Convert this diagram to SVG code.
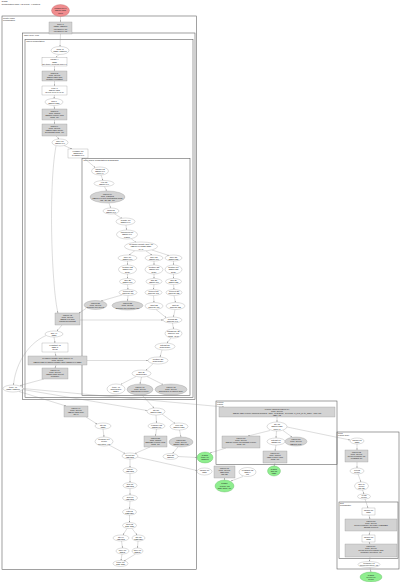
<svg xmlns="http://www.w3.org/2000/svg" width="400" height="582" viewBox="0 0 400 582">
<style>
.cl{fill:none;stroke:#555;stroke-width:0.55}
.g{fill:#d3d3d3;stroke:#8a8a8a;stroke-width:0.3}
.w{fill:#fff;stroke:#8a8a8a;stroke-width:0.3}
.r{fill:#f08c8e;stroke:#b05a5a;stroke-width:0.3}
.gr{fill:#8fee8f;stroke:#4ca84c;stroke-width:0.3}
.e{fill:none;stroke:#8a8a8a;stroke-width:0.3;marker-end:url(#ah)}
text{font-family:"Liberation Sans",Arial,sans-serif;font-size:2.2px;fill:#222;text-anchor:middle}
.l{text-anchor:start}
</style>
<defs>
<marker id="ah" viewBox="0 0 10 10" refX="10" refY="5" markerWidth="1.6" markerHeight="1.6" markerUnits="userSpaceOnUse" orient="auto"><path d="M0,1L10,5L0,9z" fill="#8a8a8a"/></marker>
</defs>
<rect width="400" height="582" fill="#fff"/>
<text class="l" x="1.5" y="2.4">Graph</text>
<text class="l" x="1.5" y="4.8">Computation main, 92 nodes, 4 clusters</text>

<g id="clusters">
<rect class="cl" x="2" y="16" width="194.5" height="553.5"/><text class="l" x="3" y="18.6">cluster main</text><text class="l" x="3" y="20.8">computation</text>
<rect class="cl" x="22.5" y="33" width="172.5" height="366.5"/><text class="l" x="24" y="35.6">while body loop</text>
<rect class="cl" x="25" y="39.5" width="168" height="358"/><text class="l" x="26.5" y="42.2">fused computation</text>
<rect class="cl" x="82" y="158.5" width="108" height="237"/><text class="l" x="83.5" y="161.2">inner fused computation.2 subgraph</text>
<rect class="cl" x="216" y="401" width="121" height="63.5"/><text class="l" x="217" y="403.4">reduce</text><text class="l" x="217" y="405.4">region</text>
<rect class="cl" x="337" y="432" width="62" height="137"/><text class="l" x="338" y="434.4">cond</text><text class="l" x="338" y="436.4">region body</text>
<rect class="cl" x="339" y="502" width="59" height="56.5"/><text class="l" x="340" y="504.4">sort</text><text class="l" x="340" y="506.4">comparator</text>
</g>

<g id="edges">
<path class="e" d="M60.5,16.5L60.5,22"/>
<path class="e" d="M60.5,34L60,46.5"/>
<path class="e" d="M59,54.5L56,57.5"/>
<path class="e" d="M54.5,66L54.5,71"/>
<path class="e" d="M54.5,81L54.5,86"/>
<path class="e" d="M54.5,95L54,98.5"/>
<path class="e" d="M54,105.5L54.5,109"/>
<path class="e" d="M54.5,120L54.5,124"/>
<path class="e" d="M56,136L59,139"/>
<path class="e" d="M64,145.5L72,149"/>
<path class="e" d="M84,158L95,167.5"/>
<path class="e" d="M101,175L103,180.5"/>
<path class="e" d="M104.5,186.5L106.5,191"/>
<path class="e" d="M109,203L110.5,208"/>
<path class="e" d="M114,213.5L122,218.5"/>
<path class="e" d="M126,225L126.5,230"/>
<path class="e" d="M131,238.5L136,242.5"/>
<path class="e" d="M135,250.5L129,255"/>
<path class="e" d="M146,251L152,255"/>
<path class="e" d="M152,250L169,255.5"/>
<path class="e" d="M127.5,261L127.5,265"/>
<path class="e" d="M154,261L154,265"/>
<path class="e" d="M173.5,261L173.5,265"/>
<path class="e" d="M127.5,274L127.5,278.5"/>
<path class="e" d="M154,274L154,278.5"/>
<path class="e" d="M173.5,274L173.5,278.5"/>
<path class="e" d="M127.5,284.5L128,289.5"/>
<path class="e" d="M154,284.5L153.5,289.5"/>
<path class="e" d="M173.5,284.5L174,289.5"/>
<path class="e" d="M122,295L101,301"/>
<path class="e" d="M128,295.5L127.5,301"/>
<path class="e" d="M153.5,295.5L154,302.5"/>
<path class="e" d="M174,295.5L175.5,302.5"/>
<path class="e" d="M175,309.5L173.5,317"/>
<path class="e" d="M156,309.5L166,317.5"/>
<path class="e" d="M172.5,323L173.5,329"/>
<path class="e" d="M171,338L167,343"/>
<path class="e" d="M162,350L160,357"/>
<path class="e" d="M153,363.8L146,370.3"/>
<path class="e" d="M136,376.5L121,384.3"/>
<path class="e" d="M141.5,377L140,384"/>
<path class="e" d="M147,376.5L163,384.5"/>
<path class="e" d="M56,146C48,190 52,290 58,313"/>
<path class="e" d="M86,308.5L79,313"/>
<path class="e" d="M80,320L163,320"/>
<path class="e" d="M62,325L57,331"/>
<path class="e" d="M54,337L55,343"/>
<path class="e" d="M55,352L56,356"/>
<path class="e" d="M56,365L55,368"/>
<path class="e" d="M87,360.5L148,360.5"/>
<path class="e" d="M44,379L20,385.5"/>
<path class="e" d="M46,335.5C25,345 15,368 13.5,385"/>
<path class="e" d="M19,391.5L66,406"/>
<path class="e" d="M23,389.5L147,410.5"/>
<path class="e" d="M23,388.5L224,407"/>
<path class="e" d="M142,395L154,408"/>
<path class="e" d="M86,417L97,424"/>
<path class="e" d="M156,415L156.5,423"/>
<path class="e" d="M162,414L175,423.5"/>
<path class="e" d="M103,429L104,437"/>
<path class="e" d="M156.5,429L155.5,436"/>
<path class="e" d="M179.5,430L181,437"/>
<path class="e" d="M109,445L125,453.5"/>
<path class="e" d="M150,447L135,453.5"/>
<path class="e" d="M178,447L172.5,453.5"/>
<path class="e" d="M178,456.5L197,457.5"/>
<path class="e" d="M137,457L197,470.5"/>
<path class="e" d="M130,459L130,467.5"/>
<path class="e" d="M130,473.5L130,482.5"/>
<path class="e" d="M130,488.5L130,495"/>
<path class="e" d="M130,501L129.5,509"/>
<path class="e" d="M129.5,515L129.5,522.5"/>
<path class="e" d="M127,528.5L123,535"/>
<path class="e" d="M132,528.5L137,535"/>
<path class="e" d="M121.5,541L122.5,548"/>
<path class="e" d="M138,541L137.5,548"/>
<path class="e" d="M122,554L121,560.5"/>
<path class="e" d="M135.5,554L124,561"/>
<path class="e" d="M277,417L277,422"/>
<path class="e" d="M270,430.5L248,436"/>
<path class="e" d="M276.5,431L276,438"/>
<path class="e" d="M283,430.5L292,437"/>
<path class="e" d="M287,427L350,440"/>
<path class="e" d="M276,445L275,451"/>
<path class="e" d="M275,463L274,466"/>
<path class="e" d="M226,448L210,453"/>
<path class="e" d="M224.5,478L224.5,480"/>
<path class="e" d="M243,476.5L231,481"/>
<path class="e" d="M357,444L357,450"/>
<path class="e" d="M357,462L357,468"/>
<path class="e" d="M358,474L361,482"/>
<path class="e" d="M362.5,490L364,494"/>
<path class="e" d="M365,499L368,508"/>
<path class="e" d="M369,515L370,519"/>
<path class="e" d="M370,531L369,535"/>
<path class="e" d="M369,542L370,544"/>
<path class="e" d="M370,557L369.5,561.5"/>
<path class="e" d="M370,567.5L371,572"/>
</g>

<g id="n0"><ellipse class="r" cx="60.5" cy="10.5" rx="9" ry="6"/><text x="60.5" y="9">Parameter 0</text><text x="60.5" y="11.4">f32[16,128]</text><text x="60.5" y="13.8">input</text></g>
<g id="n1"><rect class="g" x="49" y="22" width="23" height="12"/><text x="60.5" y="25">tuple.1</text><text x="60.5" y="27.4">(s32[], f32[16])</text><text x="60.5" y="29.8">operand 0: p0</text><text x="60.5" y="32.2">operand 1: p1</text></g>
<g id="n2"><ellipse class="w" cx="60" cy="50.5" rx="9" ry="4"/><text x="60" y="50">while.3</text><text x="60" y="52.4">(s32[], f32[16])</text></g>
<g id="n3"><rect class="w" x="42" y="57.5" width="25" height="8.5"/><text x="54.5" y="60.3">param.4</text><text x="54.5" y="62.6">s32[]</text><text x="54.5" y="65">get-tuple-element index 0</text></g>
<g id="n4"><rect class="g" x="42" y="71" width="25" height="10"/><text x="54.5" y="73.6">fusion.5</text><text x="54.5" y="75.8">kind=kLoop</text><text x="54.5" y="78">f32[16,128] add</text><text x="54.5" y="80.2">multiply constant</text></g>
<g id="n5"><rect class="w" x="42" y="86" width="25" height="9"/><text x="54.5" y="88.8">copy.6</text><text x="54.5" y="91.1">f32[16,128]</text><text x="54.5" y="93.4">layout {1,0} to {0,1}</text></g>
<g id="n6"><ellipse class="w" cx="54" cy="102" rx="9" ry="3.5"/><text x="54" y="101.6">add.7</text><text x="54" y="103.8">f32[16,128]</text></g>
<g id="n7"><rect class="g" x="42" y="109" width="25" height="11"/><text x="54.5" y="111.8">fusion.8</text><text x="54.5" y="114">kind=kInput</text><text x="54.5" y="116.2">f32[16] reduce add</text><text x="54.5" y="118.4">dims={1}</text></g>
<g id="n8"><rect class="g" x="42" y="124" width="25" height="12"/><text x="54.5" y="126.8">fusion.9</text><text x="54.5" y="129">kind=kLoop</text><text x="54.5" y="131.2">f32[16,128] divide</text><text x="54.5" y="133.4">broadcast dims={0}</text></g>
<g id="n9"><ellipse class="w" cx="60" cy="142.5" rx="8" ry="3.5"/><text x="60" y="142">slice.10</text><text x="60" y="144.2">f32[16,64]</text></g>
<g id="n10"><rect class="w" x="68" y="149" width="20" height="9"/><text x="78" y="151.7">reshape.11</text><text x="78" y="153.9">f32[1024]</text><text x="78" y="156.1">to f32[16,64]</text></g>

<g id="n11"><ellipse class="w" cx="100" cy="171" rx="8.5" ry="4"/><text x="100" y="170">param.12</text><text x="100" y="172.2">f32[16,64]</text><text x="100" y="174.4">index 0</text></g>
<g id="n12"><ellipse class="w" cx="104" cy="183.5" rx="10" ry="3"/><text x="104" y="183.2">exp.13</text><text x="104" y="185.4">f32[16,64]</text></g>
<g id="n13"><ellipse class="g" cx="107.5" cy="197" rx="17.5" ry="6"/><text x="107.5" y="194.6">fusion.14</text><text x="107.5" y="196.8">kind=kOutput</text><text x="107.5" y="199">f32[16,64] dot contracting dims</text><text x="107.5" y="201.2">lhs={1} rhs={0}</text></g>
<g id="n14"><ellipse class="w" cx="111" cy="211" rx="8" ry="3"/><text x="111" y="210.6">tanh.15</text><text x="111" y="212.8">f32[16,64]</text></g>
<g id="n15"><ellipse class="w" cx="125.5" cy="221.5" rx="9.5" ry="3.5"/><text x="125.5" y="221">negate.16</text><text x="125.5" y="223.2">f32[16,64]</text></g>
<g id="n16"><ellipse class="w" cx="127" cy="234.5" rx="10.5" ry="4.5"/><text x="127" y="233.2">maximum.17</text><text x="127" y="235.4">f32[16,64]</text><text x="127" y="237.6">clamp</text></g>
<g id="n17"><ellipse class="w" cx="141" cy="246.5" rx="16.5" ry="4.5"/><text x="141" y="245.2">dynamic-update-slice.18</text><text x="141" y="247.4">f32[16,64] s32[] s32[]</text><text x="141" y="249.6">(0, 1)</text></g>
<g id="n18"><ellipse class="w" cx="127.5" cy="258" rx="9.5" ry="3"/><text x="127.5" y="257.6">slice.19</text><text x="127.5" y="259.8">f32[16,16]</text></g>
<g id="n19"><ellipse class="w" cx="154" cy="258" rx="9" ry="3"/><text x="154" y="257.6">slice.20</text><text x="154" y="259.8">f32[16,16]</text></g>
<g id="n20"><ellipse class="w" cx="173.5" cy="258" rx="8.5" ry="3"/><text x="173.5" y="257.6">slice.21</text><text x="173.5" y="259.8">f32[16,32]</text></g>
<g id="n21"><ellipse class="w" cx="127.5" cy="269.5" rx="9" ry="4.5"/><text x="127.5" y="268.2">multiply.22</text><text x="127.5" y="270.4">f32[16,16]</text><text x="127.5" y="272.6">scale</text></g>
<g id="n22"><ellipse class="w" cx="154" cy="269.5" rx="9" ry="4.5"/><text x="154" y="268.2">multiply.23</text><text x="154" y="270.4">f32[16,16]</text><text x="154" y="272.6">scale</text></g>
<g id="n23"><ellipse class="w" cx="173.5" cy="269.5" rx="8.5" ry="4.5"/><text x="173.5" y="268.2">multiply.24</text><text x="173.5" y="270.4">f32[16,32]</text><text x="173.5" y="272.6">scale</text></g>
<g id="n24"><ellipse class="w" cx="127.5" cy="281.5" rx="8" ry="3"/><text x="127.5" y="281.1">add.25</text><text x="127.5" y="283.3">f32[16,16]</text></g>
<g id="n25"><ellipse class="w" cx="154" cy="281.5" rx="8" ry="3"/><text x="154" y="281.1">add.26</text><text x="154" y="283.3">f32[16,16]</text></g>
<g id="n26"><ellipse class="w" cx="173.5" cy="281.5" rx="8" ry="3"/><text x="173.5" y="281.1">add.27</text><text x="173.5" y="283.3">f32[16,32]</text></g>
<g id="n27"><ellipse class="w" cx="128" cy="292.5" rx="9" ry="3"/><text x="128" y="292.1">convert.28</text><text x="128" y="294.3">bf16[16,16]</text></g>
<g id="n28"><ellipse class="w" cx="153.5" cy="292.5" rx="8.5" ry="3"/><text x="153.5" y="292.1">convert.29</text><text x="153.5" y="294.3">bf16[16,16]</text></g>
<g id="n29"><ellipse class="w" cx="174" cy="292.5" rx="8" ry="3"/><text x="174" y="292.1">convert.30</text><text x="174" y="294.3">bf16[16,32]</text></g>
<g id="n30"><ellipse class="g" cx="95.5" cy="305" rx="11.5" ry="4.5"/><text x="95.5" y="303.6">fusion.31</text><text x="95.5" y="305.8">kind=kLoop</text><text x="95.5" y="308">bf16[16,16] select</text></g>
<g id="n31"><ellipse class="g" cx="127.5" cy="305.5" rx="15.5" ry="4.5"/><text x="127.5" y="304.1">fusion.32</text><text x="127.5" y="306.3">kind=kLoop</text><text x="127.5" y="308.5">bf16[16,16] compare GT</text></g>
<g id="n32"><ellipse class="w" cx="154" cy="306" rx="9" ry="3.5"/><text x="154" y="305.5">rsqrt.33</text><text x="154" y="307.7">bf16[16,16]</text></g>
<g id="n33"><ellipse class="w" cx="175.5" cy="306" rx="9.5" ry="3.5"/><text x="175.5" y="305.5">sqrt.34</text><text x="175.5" y="307.7">bf16[16,32]</text></g>
<g id="n34"><ellipse class="w" cx="172.5" cy="320" rx="9.5" ry="3"/><text x="172.5" y="319.6">concat.35</text><text x="172.5" y="321.8">bf16[16,64]</text></g>
<g id="n35"><ellipse class="w" cx="173.5" cy="333.5" rx="8.5" ry="4.5"/><text x="173.5" y="332.2">transpose.36</text><text x="173.5" y="334.4">bf16[64,16]</text><text x="173.5" y="336.6">dims={1,0}</text></g>
<g id="n36"><ellipse class="w" cx="165" cy="346.5" rx="10" ry="3.5"/><text x="165" y="346">bitcast.37</text><text x="165" y="348.2">bf16[1024]</text></g>
<g id="n37"><ellipse class="w" cx="158" cy="360.5" rx="10" ry="3.5"/><text x="158" y="360">multiply.38</text><text x="158" y="362.2">bf16[1024]</text></g>
<g id="n38"><ellipse class="w" cx="141.5" cy="373.5" rx="9.5" ry="3.5"/><text x="141.5" y="373">add.39</text><text x="141.5" y="375.2">bf16[1024]</text></g>
<g id="n39"><ellipse class="w" cx="116" cy="389" rx="9" ry="5"/><text x="116" y="387.5">tuple.40</text><text x="116" y="389.7">(bf16[1024],</text><text x="116" y="391.9">s32[])</text></g>
<g id="n40"><ellipse class="g" cx="140" cy="389.5" rx="13" ry="5.5"/><text x="140" y="387.6">fusion.41</text><text x="140" y="389.8">kind=kLoop</text><text x="140" y="392">bf16[1024] reduce</text></g>
<g id="n41"><ellipse class="g" cx="171" cy="389.5" rx="16" ry="5.5"/><text x="171" y="387.6">fusion.42</text><text x="171" y="389.8">kind=kLoop</text><text x="171" y="392">bf16[1024] dynamic-slice</text></g>

<g id="n42"><rect class="g" x="55" y="313" width="25" height="12"/><text x="67.5" y="315.8">fusion.43</text><text x="67.5" y="318">kind=kLoop</text><text x="67.5" y="320.2">f32[16,64] add</text><text x="67.5" y="322.4">param broadcast</text></g>
<g id="n43"><ellipse class="w" cx="54" cy="334" rx="9" ry="3"/><text x="54" y="333.6">add.44</text><text x="54" y="335.8">s32[]</text></g>
<g id="n44"><rect class="w" x="42" y="343" width="26" height="9"/><text x="55" y="345.7">constant.45</text><text x="55" y="347.9">s32[] 1</text><text x="55" y="350.1">literal</text></g>
<g id="n45"><rect class="g" x="28" y="356" width="59" height="9"/><text x="57.5" y="358.6">dynamic-update-slice-fusion.46</text><text x="57.5" y="360.8">kind=kLoop</text><text x="57.5" y="363">f32[16,128] dynamic-update-slice f32[16,64] s32[]</text></g>
<g id="n46"><rect class="g" x="42" y="368" width="26" height="11"/><text x="55" y="370.8">fusion.47</text><text x="55" y="373">kind=kLoop</text><text x="55" y="375.2">f32[16,128] select</text><text x="55" y="377.4">compare</text></g>
<g id="n47"><ellipse class="w" cx="13" cy="388.5" rx="10" ry="3.5"/><text x="13" y="388">tuple.48</text><text x="13" y="390.2">(s32[], f32[16])</text></g>

<g id="n48"><rect class="g" x="64" y="406" width="24" height="11"/><text x="76" y="408.8">fusion.49</text><text x="76" y="411">kind=kLoop</text><text x="76" y="413.2">f32[16,128] slice</text><text x="76" y="415.4">gte 1</text></g>
<g id="n49"><ellipse class="w" cx="156" cy="411.5" rx="9" ry="3.5"/><text x="156" y="411">gte.50</text><text x="156" y="413.2">f32[16,128]</text></g>
<g id="n50"><ellipse class="w" cx="103" cy="426" rx="8" ry="3"/><text x="103" y="425.6">gte.51</text><text x="103" y="427.8">s32[]</text></g>
<g id="n51"><ellipse class="w" cx="156.5" cy="426" rx="8.5" ry="3"/><text x="156.5" y="425.6">reshape.52</text><text x="156.5" y="427.8">f32[2048]</text></g>
<g id="n52"><ellipse class="w" cx="179" cy="426.5" rx="9" ry="3.5"/><text x="179" y="426">copy.53</text><text x="179" y="428.2">f32[16,128]</text></g>
<g id="n53"><ellipse class="w" cx="104" cy="441.5" rx="9" ry="4.5"/><text x="104" y="440.2">compare.54</text><text x="104" y="442.4">pred[]</text><text x="104" y="444.6">direction=LT</text></g>
<g id="n54"><rect class="g" x="144" y="436" width="23" height="11"/><text x="155.5" y="438.8">fusion.55</text><text x="155.5" y="441">kind=kInput</text><text x="155.5" y="443.2">f32[128] reduce max</text><text x="155.5" y="445.4">dims={0}</text></g>
<g id="n55"><ellipse class="g" cx="181" cy="442" rx="12" ry="5"/><text x="181" y="440.6">fusion.56</text><text x="181" y="442.8">kind=kLoop</text><text x="181" y="445">f32[16,128] exp</text></g>
<g id="n56"><ellipse class="w" cx="130" cy="456" rx="8" ry="3"/><text x="130" y="455.6">select.57</text><text x="130" y="457.8">f32[128]</text></g>
<g id="n57"><ellipse class="w" cx="170.5" cy="456.5" rx="7.5" ry="3"/><text x="170.5" y="456.1">sum.58</text><text x="170.5" y="458.3">f32[16]</text></g>
<g id="n58"><ellipse class="w" cx="130" cy="470.5" rx="7" ry="3"/><text x="130" y="470.1">log.59</text><text x="130" y="472.3">f32[128]</text></g>
<g id="n59"><ellipse class="w" cx="130" cy="485.5" rx="7" ry="3"/><text x="130" y="485.1">neg.60</text><text x="130" y="487.3">f32[128]</text></g>
<g id="n60"><ellipse class="w" cx="130" cy="498" rx="7.5" ry="3"/><text x="130" y="497.6">sort.61</text><text x="130" y="499.8">f32[128]</text></g>
<g id="n61"><ellipse class="w" cx="129.5" cy="512" rx="7" ry="3"/><text x="129.5" y="511.6">iota.62</text><text x="129.5" y="513.8">s32[128]</text></g>
<g id="n62"><ellipse class="w" cx="129.5" cy="525.5" rx="7" ry="3"/><text x="129.5" y="525.1">sort.63</text><text x="129.5" y="527.3">(f32, s32)</text></g>
<g id="n63"><ellipse class="w" cx="121" cy="538" rx="8" ry="3"/><text x="121" y="537.6">gte.64</text><text x="121" y="539.8">f32[128]</text></g>
<g id="n64"><ellipse class="w" cx="138.5" cy="538" rx="6.5" ry="3"/><text x="138.5" y="537.6">gte.65</text><text x="138.5" y="539.8">s32[128]</text></g>
<g id="n65"><ellipse class="w" cx="122.5" cy="551" rx="6.5" ry="3"/><text x="122.5" y="550.6">slice.66</text><text x="122.5" y="552.8">f32[8]</text></g>
<g id="n66"><ellipse class="w" cx="137.5" cy="551" rx="5.5" ry="3"/><text x="137.5" y="550.6">slice.67</text><text x="137.5" y="552.8">s32[8]</text></g>
<g id="n67"><ellipse class="w" cx="120.5" cy="563.5" rx="7.5" ry="3"/><text x="120.5" y="563.1">tuple.68</text><text x="120.5" y="565.3">(f32, s32)</text></g>

<g id="n69"><ellipse class="gr" cx="205" cy="457.5" rx="8" ry="5.5"/><text x="205" y="456">ROOT</text><text x="205" y="458.2">tuple.69</text><text x="205" y="460.4">(f32[16])</text></g>
<g id="n70"><ellipse class="w" cx="204.5" cy="471.5" rx="7.5" ry="3.5"/><text x="204.5" y="471">param.70</text><text x="204.5" y="473.2">f32[]</text></g>
<g id="n71"><rect class="g" x="214" y="466" width="21" height="12"/><text x="224.5" y="468.8">fusion.71</text><text x="224.5" y="471">kind=kLoop</text><text x="224.5" y="473.2">f32[] add</text><text x="224.5" y="475.4">lhs rhs</text></g>
<g id="n72"><ellipse class="w" cx="247.5" cy="472" rx="8.5" ry="4.5"/><text x="247.5" y="470.7">constant.72</text><text x="247.5" y="472.9">f32[] 0</text><text x="247.5" y="475.1">init</text></g>
<g id="n73"><ellipse class="gr" cx="224.5" cy="486" rx="9.5" ry="6"/><text x="224.5" y="484.4">ROOT</text><text x="224.5" y="486.6">reduce.73</text><text x="224.5" y="488.8">f32[] dims={0}</text></g>

<g id="n74"><rect class="g" x="219" y="407" width="116" height="10"/><text x="277" y="409.6">reduce-window-fusion.74</text><text x="277" y="411.8">kind=kLoop</text><text x="277" y="414">f32[16,128] reduce-window window={size=1x3 stride=1x1 pad=0_0x1_1} to_apply=max init</text><text x="277" y="416.2">f32[] -inf</text></g>
<g id="n75"><ellipse class="w" cx="277" cy="426.5" rx="10" ry="4.5"/><text x="277" y="425.2">gte.75</text><text x="277" y="427.4">f32[16,128]</text><text x="277" y="429.6">index 1</text></g>
<g id="n76"><rect class="g" x="222" y="436" width="38" height="12"/><text x="241" y="438.8">fusion.76</text><text x="241" y="441">kind=kLoop</text><text x="241" y="443.2">f32[16] divide broadcast reduce</text><text x="241" y="445.4">dims={1}</text></g>
<g id="n77"><ellipse class="w" cx="276" cy="441.5" rx="9" ry="3.5"/><text x="276" y="441">bitcast.77</text><text x="276" y="443.2">f32[2048]</text></g>
<g id="n78"><ellipse class="g" cx="296" cy="441.5" rx="11" ry="4.5"/><text x="296" y="440.2">fusion.78</text><text x="296" y="442.4">kind=kLoop</text><text x="296" y="444.6">f32[16] max</text></g>
<g id="n79"><rect class="g" x="263" y="451" width="24" height="12"/><text x="275" y="453.8">fusion.79</text><text x="275" y="456">kind=kInput</text><text x="275" y="458.2">f32[] reduce add</text><text x="275" y="460.4">dims={0}</text></g>
<g id="n80"><ellipse class="gr" cx="274" cy="471" rx="6.5" ry="5"/><text x="274" y="469.6">ROOT</text><text x="274" y="471.8">add.80</text><text x="274" y="474">f32[]</text></g>

<g id="n81"><ellipse class="w" cx="357" cy="441" rx="7" ry="3"/><text x="357" y="440.6">param.81</text><text x="357" y="442.8">s32[]</text></g>
<g id="n82"><rect class="g" x="345" y="450" width="23" height="12"/><text x="356.5" y="452.8">fusion.82</text><text x="356.5" y="455">kind=kLoop</text><text x="356.5" y="457.2">pred[] compare LT</text><text x="356.5" y="459.4">constant 10</text></g>
<g id="n83"><ellipse class="w" cx="357" cy="471" rx="7" ry="3"/><text x="357" y="470.6">not.83</text><text x="357" y="472.8">pred[]</text></g>
<g id="n84"><ellipse class="w" cx="361.5" cy="486" rx="7" ry="4"/><text x="361.5" y="485">and.84</text><text x="361.5" y="487.2">pred[]</text><text x="361.5" y="489.4">lhs rhs</text></g>
<g id="n85"><ellipse class="w" cx="364" cy="496.5" rx="6.5" ry="2.5"/><text x="364" y="496.1">or.85</text><text x="364" y="498.3">pred[]</text></g>
<g id="n86"><rect class="w" x="362" y="508" width="13" height="7"/><text x="368.5" y="510.6">param.86</text><text x="368.5" y="512.8">f32[]</text></g>
<g id="n87"><rect class="g" x="345" y="519" width="52" height="12"/><text x="371" y="521.8">fusion.87</text><text x="371" y="524">kind=kLoop</text><text x="371" y="526.2">pred[] compare GT TOTALORDER</text><text x="371" y="528.4">bitcast-convert</text></g>
<g id="n88"><rect class="w" x="362" y="535" width="13" height="7"/><text x="368.5" y="537.6">param.88</text><text x="368.5" y="539.8">s32[]</text></g>
<g id="n89"><rect class="g" x="345" y="544" width="52" height="13"/><text x="371" y="546.8">fusion.89</text><text x="371" y="549">kind=kLoop</text><text x="371" y="551.2">pred[] select compare EQ</text><text x="371" y="553.4">compare direction=LT</text></g>
<g id="n90"><ellipse class="w" cx="369" cy="564.5" rx="11" ry="3"/><text x="369" y="564.1">compare.90</text><text x="369" y="566.3">pred[] direction=LT</text></g>
<g id="n91"><ellipse class="gr" cx="371" cy="577" rx="11" ry="5"/><text x="371" y="575.6">ROOT</text><text x="371" y="577.8">select.91</text><text x="371" y="580">pred[]</text></g>
</svg>
